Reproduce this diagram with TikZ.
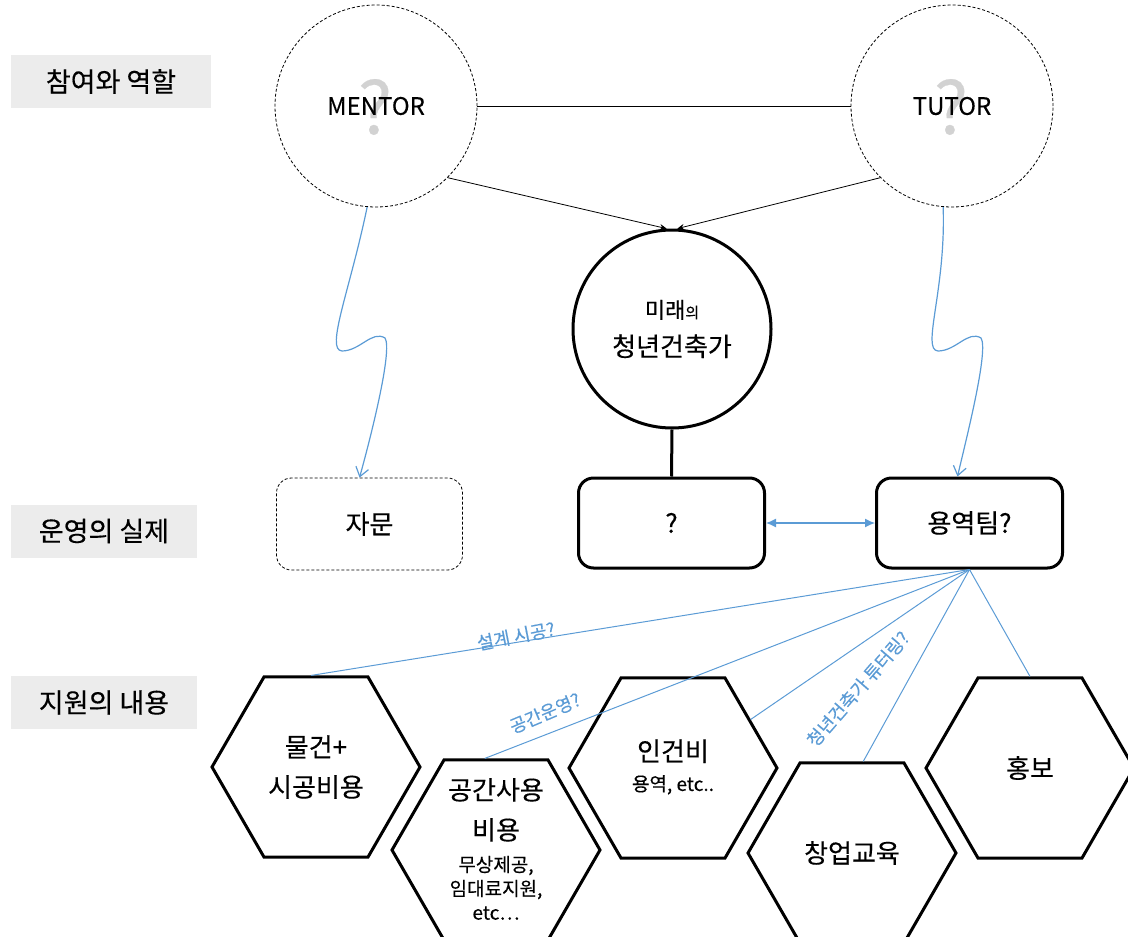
\documentclass[tikz,border=0pt]{standalone}
\usepackage{fontspec}
\setmainfont{Noto Sans CJK KR}[FakeBold=0.3]
\usetikzlibrary{arrows.meta,shapes.geometric,calc}

\definecolor{lineblue}{RGB}{91,155,213}
\definecolor{labelgray}{RGB}{236,236,236}

\newcommand{\smalltext}{\fontsize{19}{24}\selectfont}

\tikzset{
  section/.style={fill=labelgray, inner sep=0pt, minimum height=53pt,
    font=\fontsize{27}{30}\selectfont},
  person/.style={circle, draw, line width=0.8pt, dash pattern=on 3pt off 2pt,
    minimum size=202pt, inner sep=0pt, font=\fontsize{24}{28}\selectfont},
  bigcircle/.style={circle, draw, line width=3pt, minimum size=198pt, inner sep=0pt,
    align=center, font=\fontsize{26}{38}\selectfont},
  roundbox/.style={rectangle, rounded corners=15pt, draw, line width=3pt,
    minimum width=186pt, minimum height=90pt, font=\fontsize{26}{30}\selectfont},
  hexa/.style={regular polygon, regular polygon sides=6, draw, line width=3pt,
    minimum size=208pt, inner sep=0pt},
  hextext/.style={align=center, inner sep=0pt, font=\fontsize{26}{40}\selectfont},
  fanline/.style={lineblue, line width=1pt},
  fantext/.style={text=lineblue, font=\fontsize{18}{20}\selectfont, inner sep=1pt}
}

\begin{document}
\begin{tikzpicture}[x=1pt, y=-1pt]
        \useasboundingbox (0,0) rectangle (1128,937);
        \clip (0,0) rectangle (1128,937);

        % section labels
        \node[section, minimum width=200pt] (lrole) at (111,81.5) {참여와 역할};
        \node[section, minimum width=186pt] (lrun) at (104,531) {운영의 실제};
        \node[section, minimum width=186pt] (lsup) at (104,702.5) {지원의 내용};

        % mentor / tutor
        \node[text=gray!35, font=\fontsize{72}{72}\selectfont] (qmen) at (375,107) {?};
        \node[text=gray!35, font=\fontsize{72}{72}\selectfont] (qtut) at (951,107) {?};
        \node[person] (mentor) at (376,106) {MENTOR};
        \node[person] (tutor) at (952,106) {TUTOR};
        \draw[line width=0.8pt] (mentor.east) -- (tutor.west);

        \node[bigcircle] (mirae) at (672,329)
          {{\fontsize{22}{24}\selectfont 미래{\fontsize{15}{16}\selectfont 의}}\\청년건축가};
        \draw[line width=0.8pt, -{Stealth[length=7pt,width=6pt]}] (mentor.-45) -- (mirae.93);
        \draw[line width=0.8pt, -{Stealth[length=7pt,width=6pt]}] (tutor.-135) -- (mirae.87);

        % boxes
        \node[roundbox, line width=0.8pt, dash pattern=on 3pt off 2pt, minimum height=92pt] (jamun) at (369.5,524) {자문};
        \node[roundbox] (qbox) at (671.5,523) {?};
        \node[roundbox] (yong) at (969.5,523) {용역팀?};

        \draw[line width=3pt] (mirae.south) -- (qbox.north);
        \draw[lineblue, line width=1.2pt, {Latex[length=10pt,width=9pt]}-{Latex[length=10pt,width=9pt]}] (qbox.east) -- (yong.west);

        % wavy arrows
        \draw[lineblue, line width=1.2pt, -{Straight Barb[length=9pt,width=13pt]}]
          (mentor.-95) .. controls (350,290) and (325,350) .. (342,351)
          .. controls (360,351) and (372,330) .. (385,338)
          .. controls (393,350) and (370,440) .. ([xshift=-10pt]jamun.north);
        \draw[lineblue, line width=1.2pt, -{Straight Barb[length=9pt,width=13pt]}]
          (tutor.-95) .. controls (946,290) and (921,350) .. (938,351)
          .. controls (956,351) and (968,330) .. (981,338)
          .. controls (989,350) and (966,440) .. ([xshift=-12pt]yong.north);

        % support hexagons
        \node[hexa] (hmat) at (316,767) {};
        \node[hexa] (hspace) at (496,850) {};
        \node[hexa] (hin) at (673,768) {};
        \node[hexa] (hchang) at (852,853) {};
        \node[hexa] (hong) at (1030,768) {};

        \node[hextext] (tmat) at (hmat.center) {물건+\\시공비용};
        \node[hextext] (tspace) at (496,849)
          {공간사용\\비용\\[-8pt]{\smalltext 무상제공,}\\[-16pt]{\smalltext 임대료지원,}\\[-16pt]{\smalltext etc…}};
        \node[hextext] (tin) at (673,767) {인건비\\[-10pt]{\smalltext 용역, etc..}};
        \node[hextext] (tchang) at (hchang.center) {창업교육};
        \node[hextext] (thong) at (hong.center) {홍보};

        \draw[fanline] (yong.south) -- (hmat.93);
        \draw[fanline] (yong.south) -- (hspace.97);
        \draw[fanline] (yong.south) -- (hin.32);
        \draw[fanline] (yong.south) -- (hchang.83);
        \draw[fanline] (yong.south) -- (hong.90);

        \node[fantext, rotate=11] (tdesign) at (516,636) {설계 시공?};
        \node[fantext, rotate=23] (trun) at (545,713) {공간운영?};
        \node[fantext, rotate=49] (ttutor) at (858,689) {청년건축가 튜터링?};
    \end{tikzpicture}
\end{document}
